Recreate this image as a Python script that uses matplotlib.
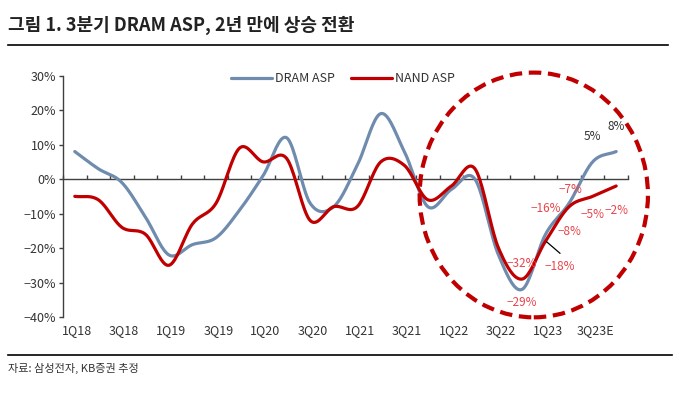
import numpy as np
import matplotlib
matplotlib.use("Agg")
import matplotlib.pyplot as plt
from matplotlib.patches import Ellipse
import matplotlib.transforms as mtransforms

plt.rcParams['font.family'] = ['Noto Sans CJK KR', 'DejaVu Sans']
plt.rcParams['axes.unicode_minus'] = True

# quarterly ASP change (%), 1Q18 - 4Q23E
quarters = ['1Q18', '2Q18', '3Q18', '4Q18', '1Q19', '2Q19', '3Q19', '4Q19',
            '1Q20', '2Q20', '3Q20', '4Q20', '1Q21', '2Q21', '3Q21', '4Q21',
            '1Q22', '2Q22', '3Q22', '4Q22', '1Q23', '2Q23', '3Q23E', '4Q23E']
tick_labels = ['1Q18', '3Q18', '1Q19', '3Q19', '1Q20', '3Q20',
               '1Q21', '3Q21', '1Q22', '3Q22', '1Q23', '3Q23E']
dram_asp = [8, 3, -1, -11, -22, -19, -17, -9, 1, 12, -7, -8,
            4, 19, 8, -8, -3, 0, -22, -32, -16, -7, 5, 8]
nand_asp = [-5, -6, -14, -16, -25, -13, -7, 9, 5, 6, -12, -8,
            -8, 5, 4, -6, -2, 3, -20, -29, -18, -8, -5, -2]

# data labels: (text, x position, y position, colour key)
point_labels = [('−7%', 21.05, -2.9, 'red'), ('−16%', 20.0, -8.5, 'red'),
                ('−5%', 22.0, -10.4, 'red'), ('−2%', 23.0, -9.0, 'red'),
                ('−8%', 21.0, -15.1, 'red'), ('−18%', 20.6, -25.4, 'red'),
                ('−32%', 19.0, -24.6, 'red'), ('−29%', 19.0, -35.7, 'red'),
                ('5%', 22.0, 12.4, 'gray'), ('8%', 23.0, 15.3, 'gray')]

DRAM_COLOR = '#6F8CAE'
NAND_COLOR = '#C00000'
LABEL_RED = '#E8454C'


def smooth(y, n=20):
    # Catmull-Rom style smoothing, like Excel's smoothed line
    y = np.asarray(y, dtype=float)
    x = np.arange(len(y), dtype=float)
    px = np.concatenate([[2 * x[0] - x[1]], x, [2 * x[-1] - x[-2]]])
    py = np.concatenate([[2 * y[0] - y[1]], y, [2 * y[-1] - y[-2]]])
    xs, ys = [], []
    t = np.linspace(0, 1, n, endpoint=False)
    for i in range(1, len(px) - 2):
        for arr, out in ((px, xs), (py, ys)):
            p0, p1, p2, p3 = arr[i - 1], arr[i], arr[i + 1], arr[i + 2]
            out.append(0.5 * ((2 * p1) + (-p0 + p2) * t
                              + (2 * p0 - 5 * p1 + 4 * p2 - p3) * t ** 2
                              + (-p0 + 3 * p1 - 3 * p2 + p3) * t ** 3))
    xs.append([x[-1]])
    ys.append([y[-1]])
    return np.concatenate(xs), np.concatenate(ys)


fig = plt.figure(figsize=(6.94, 3.93), dpi=100)
ax = fig.add_axes([0.0908, 0.1934, 0.814, 0.614])

xd, yd = smooth(dram_asp)
xn, yn = smooth(nand_asp)
ax.plot(xd, yd, color=DRAM_COLOR, lw=2.3, label='DRAM ASP', solid_capstyle='round', zorder=3)
ax.plot(xn, yn, color=NAND_COLOR, lw=2.3, label='NAND ASP', solid_capstyle='round', zorder=4)

ax.set_xlim(-0.5, len(quarters) - 0.5)
ax.set_ylim(-40, 30)

for s in ['top', 'right']:
    ax.spines[s].set_visible(False)
ax.spines['bottom'].set_position(('data', 0))
ax.spines['bottom'].set_color('#404040')
ax.spines['bottom'].set_linewidth(1.0)
ax.spines['left'].set_color('#404040')
ax.spines['left'].set_linewidth(1.0)

ax.set_yticks(np.arange(-40, 31, 10))
ax.set_yticklabels([f'{v}%'.replace('-', '−') for v in range(-40, 31, 10)], fontsize=9, color='#333333')
ax.tick_params(axis='y', direction='out', length=3, width=1, color='#404040', pad=2)

ax.set_xticks(np.arange(-0.5, len(quarters), 1.0))
ax.set_xticklabels([])
ax.tick_params(axis='x', direction='in', length=3, width=1, color='#404040')

trans = mtransforms.blended_transform_factory(ax.transData, ax.transAxes)
for lab in tick_labels:
    i = quarters.index(lab)
    ax.text(i + 0.1, -0.055, lab, transform=trans, ha='center', va='center',
            fontsize=9, color='#333333')

# dashed circle around the recent quarters
ell = Ellipse((19.5, -4.6), 9.7, 71, fill=False, ec=NAND_COLOR, lw=3,
              ls=(0, (3, 1.6)), clip_on=False, zorder=5)
ax.add_patch(ell)

for txt, x, y, c in point_labels:
    ax.text(x, y, txt, ha='center', va='center', fontsize=8.5,
            color=LABEL_RED if c == 'red' else '#333333', zorder=6)
ax.plot([20.05, 20.61], [-18.2, -21.5], color='black', lw=0.9, zorder=6)

leg = ax.legend(loc='upper center', bbox_to_anchor=(0.495, 1.06), ncol=2, frameon=False,
                fontsize=9, handlelength=3.3, handletextpad=0.2, columnspacing=1.3)
for t in leg.get_texts():
    t.set_color('#333333')

fig.text(0.012, 0.935, '그림 1. 3분기 DRAM ASP, 2년 만에 상승 전환', fontsize=13,
         fontweight='bold', color='#222222', ha='left', va='center')
fig.add_artist(plt.Line2D([0.012, 0.963], [0.885, 0.885], color='black', lw=1.2))
fig.add_artist(plt.Line2D([0.012, 0.968], [0.097, 0.097], color='black', lw=1.2))
fig.text(0.012, 0.062, '자료: 삼성전자, KB증권 추정', fontsize=8, color='#333333',
         ha='left', va='center')

fig.savefig('out.png', dpi=100)
